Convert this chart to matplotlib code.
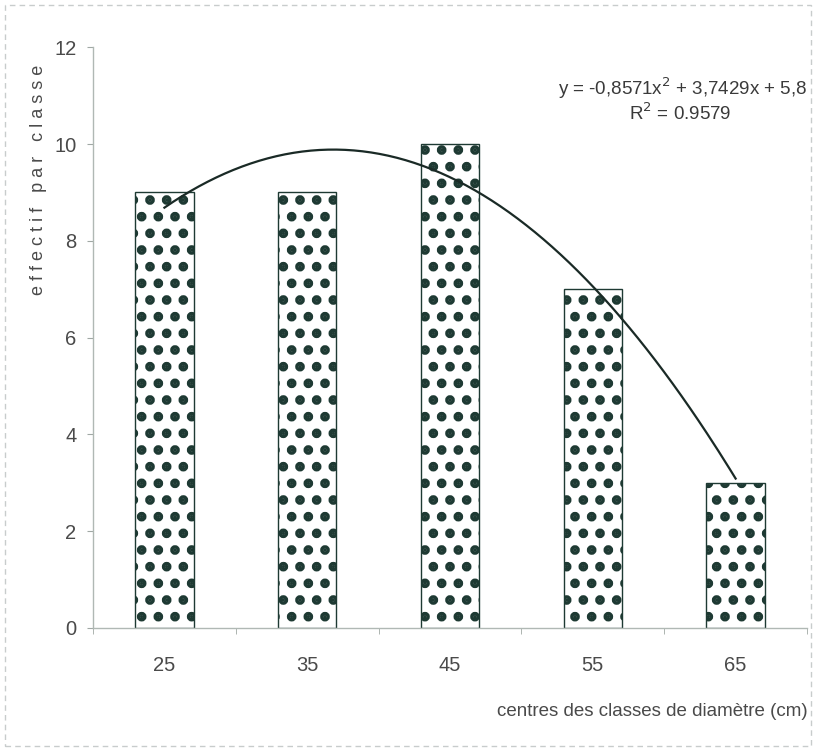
import matplotlib
matplotlib.use('Agg')
import matplotlib.pyplot as plt
import numpy as np
from matplotlib.patches import Rectangle

# data
centres = ['25', '35', '45', '55', '65']
effectifs = [9, 9, 10, 7, 3]
y_ticks = [0, 2, 4, 6, 8, 10, 12]
equation = 'y = -0,8571x$^2$ + 3,7429x + 5,8'
r2_text = 'R$^2$ = 0.9579'

plt.rcParams['font.family'] = ['Liberation Sans Narrow', 'Liberation Sans', 'DejaVu Sans']
plt.rcParams['hatch.linewidth'] = 4.5
plt.rcParams['hatch.color'] = '#1e3a33'

fig = plt.figure(figsize=(8.16, 7.51), dpi=100)
ax = fig.add_axes([0.114, 0.164, 0.875, 0.773])

ind = np.arange(len(centres))
ax.bar(ind, effectifs, 0.41, color='white', edgecolor='#1e3a33',
       linewidth=1.0, hatch='.', zorder=2)

# 2nd order polynomial trend on the class index (1..n), like Excel does
xi = ind + 1
coefs = np.polyfit(xi, effectifs, 2)
xs = np.linspace(xi[0], xi[-1], 200)
ax.plot(xs - 1, np.polyval(coefs, xs), color='#1a2a26', linewidth=1.6, zorder=3)

ax.set_xlim(-0.5, len(centres) - 0.5)
ax.set_ylim(0, 12)
ax.set_yticks(y_ticks)
ax.set_xticks(ind)
ax.set_xticklabels(centres)
ax.set_xticks(np.arange(len(centres) + 1) - 0.5, minor=True)

for s in ['top', 'right']:
    ax.spines[s].set_visible(False)
for s in ['left', 'bottom']:
    ax.spines[s].set_color('#b0b8b4')
    ax.spines[s].set_linewidth(1.0)

ax.tick_params(axis='y', length=4, color='#a0a8a4', labelsize=14.5,
               labelcolor='#4a4a4a', pad=8)
ax.tick_params(axis='x', which='major', length=0, labelsize=14.5,
               labelcolor='#4a4a4a', pad=20)
ax.tick_params(axis='x', which='minor', length=4, color='#a0a8a4')

fig.text(0.047, 0.76, 'e f f e c t i f   p a r   c l a s s e', rotation=90,
         ha='center', va='center', fontsize=13, color='#4a4a4a')
fig.text(0.99, 0.052, 'centres des classes de diamètre (cm)', ha='right',
         va='center', fontsize=13.5, color='#4a4a4a')

ax.text(0.826, 0.929, equation, transform=ax.transAxes, ha='center',
        va='center', fontsize=13.5, color='#3a3a3a')
ax.text(0.822, 0.886, r2_text, transform=ax.transAxes, ha='center',
        va='center', fontsize=13.5, color='#3a3a3a')

fig.patches.append(Rectangle((0.006, 0.006), 0.988, 0.988, transform=fig.transFigure,
                             fill=False, edgecolor='#c8cccc', linewidth=1.0,
                             linestyle=(0, (4, 3))))

fig.savefig('out.png', dpi=100)
